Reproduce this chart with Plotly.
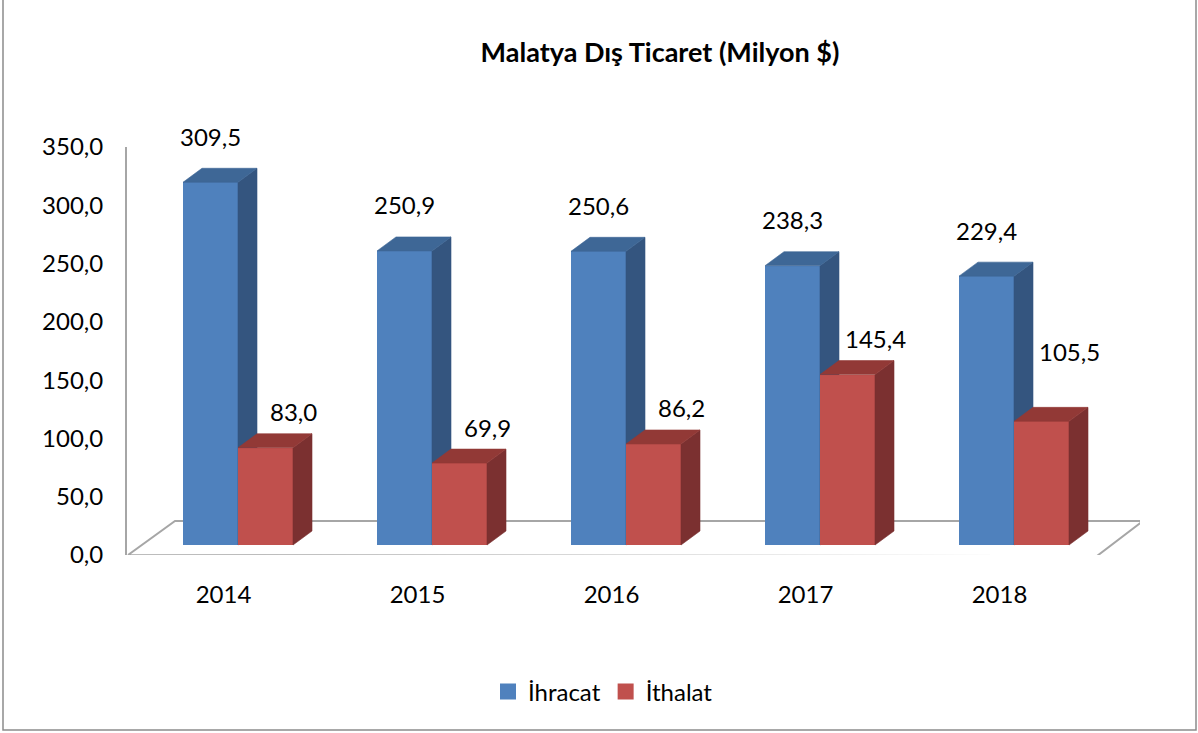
import plotly.graph_objects as go

# Malatya dış ticaret verileri (milyon $)
years = ["2014", "2015", "2016", "2017", "2018"]
ihracat = [309.5, 250.9, 250.6, 238.3, 229.4]
ithalat = [83.0, 69.9, 86.2, 145.4, 105.5]
y_ticks = [0, 50, 100, 150, 200, 250, 300, 350]

W, H = 1198, 733
L, R, T, B = 127, 1140, 147, 555      # plot area in pixels
PX_X = 194.0                           # pixels per category
X0_PX = 238.0                          # pixel of first category centre
PX_Y = 1.172                           # pixels per unit on bar axis
BASE_PX = 545.0                        # pixel of bar base

xr = [(L - X0_PX) / PX_X, (R - X0_PX) / PX_X]
y2r = [(BASE_PX - B) / PX_Y, (BASE_PX - T) / PX_Y]

bar_w = 55 / PX_X
dep_x = 19 / PX_X
dep_y = 14 / PX_Y

FONT = "Lato"
FS = 24
series = [
    dict(name="İhracat", vals=ihracat, side=-1, yax="y2",
         front="#4F81BD", dark="#34557F", top="#3E6796"),
    dict(name="İthalat", vals=ithalat, side=1, yax="y3",
         front="#C0504D", dark="#7B3030", top="#923936"),
]


def fmt(v):
    return f"{v:.1f}".replace(".", ",")


fig = go.Figure()
annotations = []

for s in series:
    xs = [i + s["side"] * bar_w / 2 for i in range(len(years))]
    fig.add_trace(go.Bar(
        x=xs, y=s["vals"], width=bar_w, name=s["name"],
        marker=dict(color=s["front"], line=dict(width=0)),
        yaxis=s["yax"], showlegend=False,
    ))
    side_x, side_y, top_x, top_y = [], [], [], []
    for xc, v in zip(xs, s["vals"]):
        xl, xrt = xc - bar_w / 2, xc + bar_w / 2
        side_x += [xrt, xrt + dep_x, xrt + dep_x, xrt, xrt, None]
        side_y += [0, dep_y, v + dep_y, v, 0, None]
        top_x += [xl, xl + dep_x, xrt + dep_x, xrt, xl, None]
        top_y += [v, v + dep_y, v + dep_y, v, v, None]
    for px_, py_, col in [(side_x, side_y, s["dark"]), (top_x, top_y, s["top"])]:
        fig.add_trace(go.Scatter(
            x=px_, y=py_, mode="lines", fill="toself", fillcolor=col,
            line=dict(width=0.6, color=col), yaxis=s["yax"],
            showlegend=False, hoverinfo="skip",
        ))
    # legend entry
    fig.add_trace(go.Scatter(
        x=[None], y=[None], mode="markers", name=s["name"],
        marker=dict(symbol="square", size=17, color=s["front"]),
    ))
    for xc, v, yr in zip(xs, s["vals"], years):
        if s["side"] < 0:
            xs_, ys_ = 0, 46
        else:
            xs_, ys_ = 28, 70 if yr == "2018" else 36
        annotations.append(dict(
            x=xc, y=v, xref="x", yref=s["yax"], text=fmt(v), showarrow=False,
            xshift=xs_, yshift=ys_, font=dict(family=FONT, size=FS, color="#000"),
        ))


def px2paper_x(p):
    return (p - L) / (R - L)


def px2paper_y(p):
    return (B - p) / (B - T)


# floor parallelogram (pixel corners -> axis units)
floor_px = [(128, 555), (175, 521), (1143, 521), (1097, 556), (128, 555)]
floor_path = "M " + " L ".join(
    f"{(px - X0_PX) / PX_X},{(BASE_PX - py) / PX_Y}" for px, py in floor_px
)
shapes = [
    dict(type="path", path=floor_path, xref="x", yref="y2", layer="below",
         line=dict(color="#A6A6A6", width=2), fillcolor="white"),
    dict(type="rect", xref="paper", yref="paper",
         x0=px2paper_x(3), x1=px2paper_x(1196),
         y0=px2paper_y(730), y1=px2paper_y(-10),
         line=dict(color="#8C8C8C", width=1.5)),
]

fig.update_layout(
    width=W, height=H,
    margin=dict(l=L, r=W - R, t=T, b=H - B),
    paper_bgcolor="white", plot_bgcolor="rgba(0,0,0,0)",
    separators=",.",
    font=dict(family=FONT, size=FS, color="#000"),
    title=dict(text="<b>Malatya Dış Ticaret (Milyon $)</b>", xref="container",
               x=660 / W, xanchor="center", y=1 - 53 / H, yanchor="middle",
               font=dict(family=FONT, size=27, color="#000")),
    xaxis=dict(range=xr, tickvals=[i - 14.5 / PX_X for i in range(len(years))],
               ticktext=years, showgrid=False, zeroline=False, showline=False,
               ticks="", ticklabelstandoff=23, fixedrange=True,
               tickfont=dict(family=FONT, size=FS)),
    yaxis=dict(range=[0, 350], tickvals=y_ticks, tickformat=".1f",
               showgrid=False, zeroline=False, showline=True,
               linecolor="#A6A6A6", linewidth=2, ticks="",
               ticklabelstandoff=17, tickfont=dict(family=FONT, size=FS)),
    yaxis2=dict(range=y2r, overlaying="y", visible=False),
    yaxis3=dict(range=y2r, overlaying="y", visible=False),
    showlegend=True,
    legend=dict(orientation="h", xref="container", yref="container",
                x=603 / W, xanchor="center", y=1 - 692 / H, yanchor="middle",
                font=dict(family=FONT, size=FS), itemwidth=30),
    annotations=annotations,
    shapes=shapes,
    bargap=0,
)

fig.write_html("out.html", config={"displayModeBar": False},
               post_script="document.body.style.margin='0';")
